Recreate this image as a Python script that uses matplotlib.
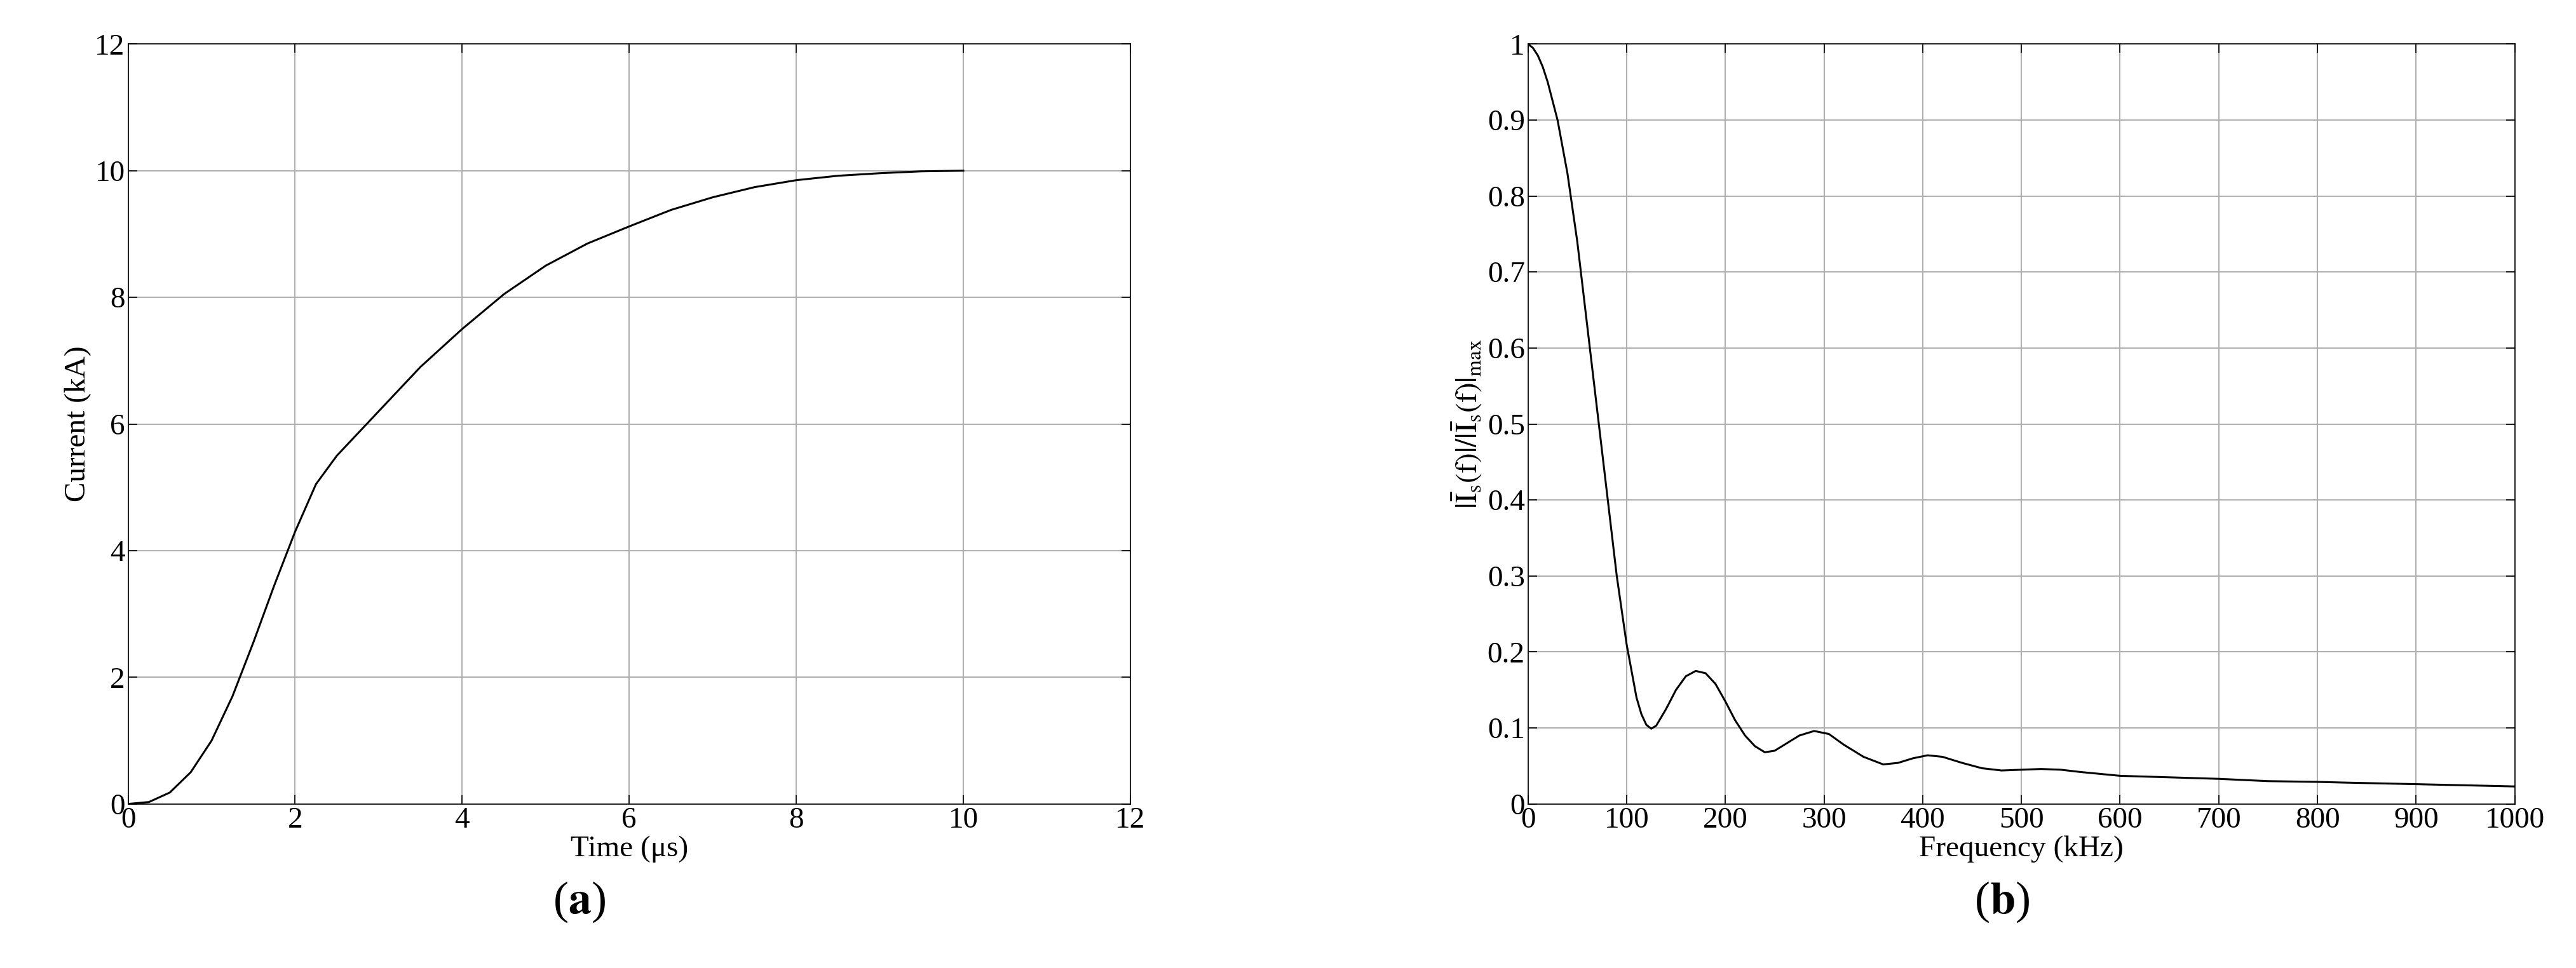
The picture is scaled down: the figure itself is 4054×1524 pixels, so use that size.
import matplotlib
matplotlib.use("Agg")
import matplotlib.pyplot as plt

plt.rcParams['font.family'] = ['Liberation Serif', 'DejaVu Serif']
plt.rcParams['mathtext.fontset'] = 'stix'

# panel (a): current waveform
time_us = [0, 0.25, 0.5, 0.75, 1.0, 1.25, 1.5, 1.75, 2.0, 2.25, 2.5, 2.75, 3.0, 3.5, 4.0,
           4.5, 5.0, 5.5, 6.0, 6.5, 7.0, 7.5, 8.0, 8.5, 9.0, 9.5, 10.0]
current_ka = [0, 0.03, 0.18, 0.5, 1.0, 1.7, 2.55, 3.45, 4.3, 5.05, 5.5, 5.85, 6.2, 6.9, 7.5,
              8.05, 8.5, 8.85, 9.12, 9.38, 9.58, 9.74, 9.85, 9.92, 9.96, 9.99, 10.0]

# panel (b): normalised spectrum
freq_khz = [0, 5, 10, 15, 20, 30, 40, 50, 60, 70, 80, 90, 100, 110, 115, 120, 125, 130,
            140, 150, 160, 170, 180, 190, 200, 210, 220, 230, 240, 250, 260, 275, 290,
            305, 320, 340, 360, 375, 390, 405, 420, 440, 460, 480, 500, 520, 540, 560,
            600, 650, 700, 750, 800, 830, 900, 1000]
spectrum = [1.0, 0.995, 0.985, 0.97, 0.95, 0.9, 0.83, 0.74, 0.63, 0.52, 0.41, 0.3, 0.21,
            0.14, 0.118, 0.104, 0.099, 0.103, 0.125, 0.15, 0.168, 0.175, 0.172, 0.158,
            0.135, 0.11, 0.09, 0.076, 0.068, 0.07, 0.078, 0.09, 0.096, 0.092, 0.078,
            0.062, 0.052, 0.054, 0.06, 0.064, 0.062, 0.054, 0.047, 0.044, 0.045, 0.046,
            0.045, 0.042, 0.037, 0.035, 0.033, 0.03, 0.029, 0.028, 0.026, 0.023]

fs = 34
fig = plt.figure(figsize=(40.55, 15.24), dpi=100)
ax1 = fig.add_axes([0.0497, 0.1695, 0.389, 0.785])
ax2 = fig.add_axes([0.593, 0.1695, 0.383, 0.785])

for ax in (ax1, ax2):
    ax.grid(True, color='#b0b0b0', linewidth=1.5)
    ax.tick_params(direction='in', top=True, right=True, labelsize=fs, length=10, width=1.2)
    for s in ax.spines.values():
        s.set_linewidth(1.2)

ax1.plot(time_us, current_ka, color='black', linewidth=2.2)
ax1.set_xlim(0, 12)
ax1.set_ylim(0, 12)
ax1.set_xticks(range(0, 13, 2))
ax1.set_yticks(range(0, 13, 2))
ax1.set_xlabel('Time (μs)', fontsize=fs, labelpad=2)
ax1.set_ylabel('Current (kA)', fontsize=fs)
ax1.text(0.45, -0.1, r'($\mathbf{a}$)', transform=ax1.transAxes, ha='center', va='top', fontsize=52)

ax2.plot(freq_khz, spectrum, color='black', linewidth=2.2)
ax2.set_xlim(0, 1000)
ax2.set_ylim(0, 1)
ax2.set_xticks(range(0, 1001, 100))
ax2.set_yticks([i / 10 for i in range(11)])
ax2.set_yticklabels(['0'] + ['0.%d' % i for i in range(1, 10)] + ['1'])
ax2.set_xlabel('Frequency (kHz)', fontsize=fs, labelpad=2)
ax2.set_ylabel(r'$|\bar{\mathrm{I}}_\mathrm{s}(\mathrm{f})|/|\bar{\mathrm{I}}_\mathrm{s}(\mathrm{f})|_\mathrm{max}$',
               fontsize=fs)
ax2.text(0.48, -0.1, r'($\mathbf{b}$)', transform=ax2.transAxes, ha='center', va='top', fontsize=52)

fig.savefig('out.png', dpi=100)
